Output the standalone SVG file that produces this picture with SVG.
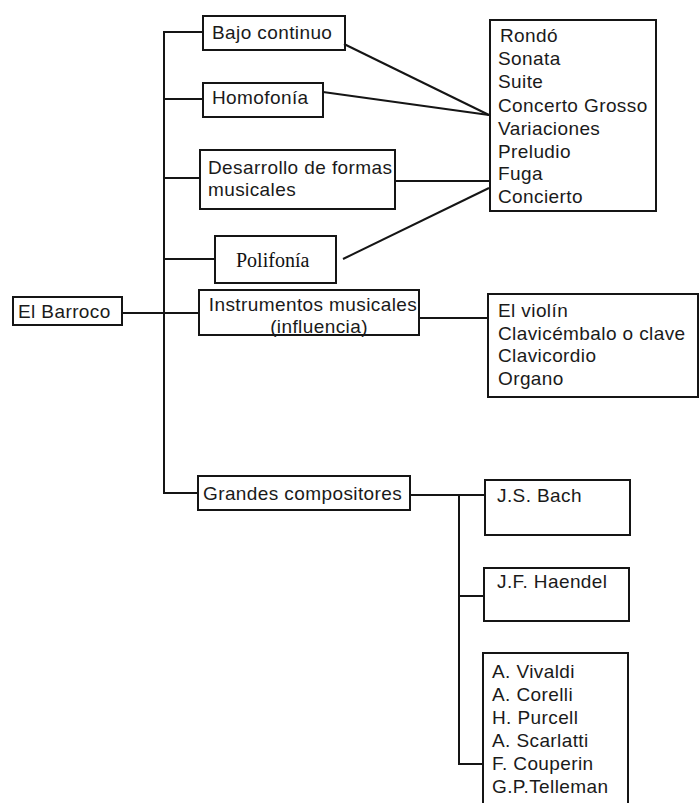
<svg xmlns="http://www.w3.org/2000/svg" width="699" height="803" viewBox="0 0 699 803">
<style>
.box{fill:none;stroke:#151515;stroke-width:2}
.ln{fill:none;stroke:#151515;stroke-width:2}
.t{font-family:"Liberation Sans",Arial,sans-serif;font-size:19px;letter-spacing:0.4px;fill:#1a1a1a}
.s{font-family:"Liberation Serif","Times New Roman",serif;font-size:20px;fill:#111}
</style>
<rect width="699" height="803" fill="#ffffff"/>
<g id="connectors">
<polyline class="ln" points="203,32 164,32 164,493 198,493"/>
<line class="ln" x1="164" y1="99" x2="203" y2="99"/>
<line class="ln" x1="164" y1="178" x2="200" y2="178"/>
<line class="ln" x1="164" y1="259" x2="215" y2="259"/>
<line class="ln" x1="122" y1="313" x2="199" y2="313"/>
<line class="ln" x1="344" y1="44" x2="489" y2="115"/>
<line class="ln" x1="323" y1="92" x2="489" y2="115"/>
<line class="ln" x1="395" y1="181" x2="490" y2="181"/>
<line class="ln" x1="343" y1="259" x2="489" y2="188"/>
<line class="ln" x1="419" y1="318" x2="488" y2="318"/>
<polyline class="ln" points="410,495 485,495"/>
<polyline class="ln" points="459,495 459,764 483,764"/>
<line class="ln" x1="459" y1="596" x2="484" y2="596"/>
</g>
<g id="bajo"><rect class="box" x="203" y="16" width="142" height="34"/><text class="t" x="212" y="39">Bajo continuo</text></g>
<g id="homofonia"><rect class="box" x="203" y="83" width="120" height="34"/><text class="t" x="212" y="104">Homofonía</text></g>
<g id="desarrollo"><rect class="box" x="200" y="150" width="195" height="59"/><text class="t" x="208" y="173.5">Desarrollo de formas</text><text class="t" x="208" y="195.5">musicales</text></g>
<g id="polifonia"><rect class="box" x="215" y="236" width="121" height="47"/><text class="s" x="236" y="267">Polifonía</text></g>
<g id="barroco"><rect class="box" x="13" y="297" width="109" height="28"/><text class="t" x="18" y="318">El Barroco</text></g>
<g id="instrumentos"><rect class="box" x="199" y="290" width="220" height="45"/><text class="t" x="313" y="311" text-anchor="middle">Instrumentos musicales</text><text class="t" x="319" y="333" text-anchor="middle">(influencia)</text></g>
<g id="grandes"><rect class="box" x="198" y="476" width="212" height="34"/><text class="t" x="203" y="500">Grandes compositores</text></g>
<g id="formas"><rect class="box" x="490" y="20" width="166" height="191"/>
<text class="t" x="500" y="42">Rondó</text>
<text class="t" x="498" y="65">Sonata</text>
<text class="t" x="498" y="88">Suite</text>
<text class="t" x="498" y="112">Concerto Grosso</text>
<text class="t" x="498" y="135">Variaciones</text>
<text class="t" x="498" y="158">Preludio</text>
<text class="t" x="498" y="180">Fuga</text>
<text class="t" x="498" y="203">Concierto</text></g>
<g id="instrumentos-lista"><rect class="box" x="488" y="294" width="210" height="103"/>
<text class="t" x="498" y="317">El violín</text>
<text class="t" x="498" y="340">Clavicémbalo o clave</text>
<text class="t" x="498" y="362">Clavicordio</text>
<text class="t" x="498" y="385">Organo</text></g>
<g id="bach"><rect class="box" x="485" y="480" width="145" height="55"/><text class="t" x="497" y="502">J.S. Bach</text></g>
<g id="haendel"><rect class="box" x="484" y="568" width="145" height="53"/><text class="t" x="497" y="588">J.F. Haendel</text></g>
<g id="otros"><rect class="box" x="483" y="653" width="145" height="160"/>
<text class="t" x="492" y="678">A. Vivaldi</text>
<text class="t" x="492" y="701">A. Corelli</text>
<text class="t" x="492" y="724">H. Purcell</text>
<text class="t" x="492" y="747">A. Scarlatti</text>
<text class="t" x="492" y="770">F. Couperin</text>
<text class="t" x="492" y="793">G.P.Telleman</text></g>
</svg>
